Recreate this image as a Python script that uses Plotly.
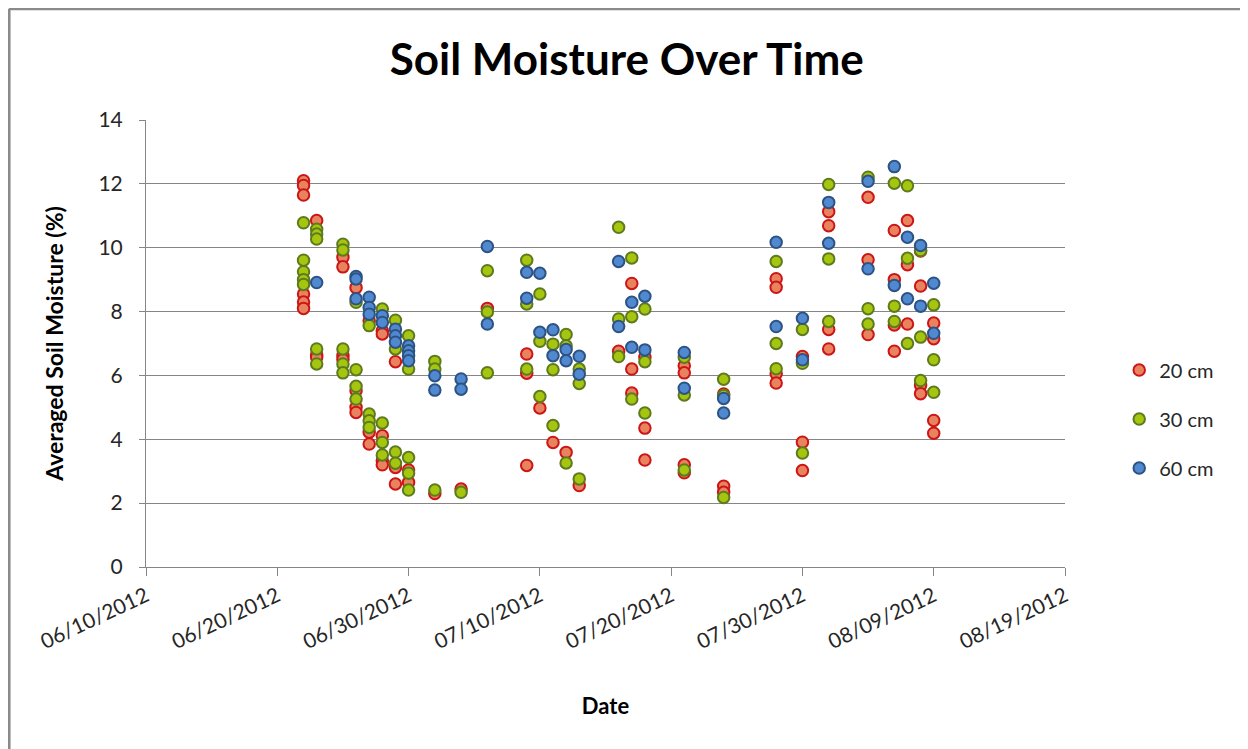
import plotly.graph_objects as go

# ─── Data ────────────────────────────────────────────────────────────────────

dates = [
    "2012-06-22", "2012-06-23", "2012-06-25", "2012-06-26", "2012-06-27",
    "2012-06-28", "2012-06-29", "2012-06-30", "2012-07-02", "2012-07-04",
    "2012-07-06", "2012-07-09", "2012-07-10", "2012-07-11", "2012-07-12",
    "2012-07-13", "2012-07-16", "2012-07-17", "2012-07-18", "2012-07-21",
    "2012-07-24", "2012-07-28", "2012-07-30", "2012-08-01", "2012-08-04",
    "2012-08-06", "2012-08-07", "2012-08-08", "2012-08-09",
]

# one list of readings per date, same order as `dates`
moist_20 = [
    [12.1, 11.95, 11.65, 8.55, 8.3, 8.1],
    [10.85, 6.65, 6.57],
    [9.7, 9.4, 6.62, 6.5],
    [8.75, 5.52, 5.0, 4.84],
    [7.71, 4.22, 3.85],
    [7.4, 7.3, 4.11, 3.33, 3.2],
    [6.43, 3.12, 2.6],
    [3.04, 2.65],
    [2.3],
    [2.44],
    [8.1],
    [6.67, 6.07, 3.18],
    [4.98],
    [3.9],
    [3.59],
    [2.55],
    [6.76],
    [8.88, 6.2, 5.45],
    [6.57, 4.35, 3.35],
    [6.3, 6.08, 3.2, 2.95],
    [5.42, 2.53, 2.34],
    [9.03, 8.76, 6.05, 5.76],
    [6.59, 3.91, 3.02],
    [11.13, 10.69, 7.44, 6.83],
    [11.58, 9.62, 7.28],
    [10.54, 9.0, 7.58, 6.76],
    [10.85, 9.47, 7.61],
    [9.9, 8.8, 5.69, 5.43],
    [7.64, 7.15, 4.59, 4.19],
]

moist_30 = [
    [10.78, 9.61, 9.25, 9.0, 8.85],
    [10.58, 10.43, 10.27, 6.83, 6.36],
    [10.11, 9.93, 6.83, 6.36, 6.08],
    [8.29, 6.18, 5.66, 5.26],
    [7.56, 4.79, 4.58, 4.37],
    [8.08, 4.51, 3.9, 3.51],
    [7.73, 6.83, 3.6, 3.25],
    [7.24, 6.2, 3.43, 2.94, 2.41],
    [6.44, 6.2, 2.41],
    [2.34],
    [9.28, 7.99, 6.08],
    [9.61, 8.24, 6.2],
    [8.55, 7.07, 5.34],
    [6.98, 6.18, 4.43],
    [7.28, 6.93, 3.26],
    [6.2, 5.75, 2.76],
    [10.64, 7.77, 6.59],
    [9.68, 7.84, 5.26],
    [8.08, 6.43, 4.82],
    [6.57, 5.39, 3.04],
    [5.88, 5.37, 2.18],
    [9.57, 7.0, 6.21],
    [7.44, 6.38, 3.57],
    [11.98, 9.65, 7.69],
    [12.21, 8.09, 7.61],
    [12.02, 8.17, 7.69],
    [11.94, 9.67, 7.0],
    [9.91, 7.2, 5.84],
    [8.21, 6.49, 5.47],
]

moist_60 = [
    [],
    [8.91],
    [],
    [9.1, 9.02, 8.4],
    [8.45, 8.13, 7.92],
    [7.87, 7.66],
    [7.45, 7.24, 7.04],
    [6.93, 6.77, 6.62, 6.46],
    [5.99, 5.54],
    [5.89, 5.57],
    [10.04, 7.61],
    [9.23, 8.42],
    [9.2, 7.35],
    [7.43, 6.62],
    [6.81, 6.46],
    [6.6, 6.04],
    [9.57, 7.53],
    [8.29, 6.88],
    [8.48, 6.8],
    [6.72, 5.6],
    [5.28, 4.82],
    [10.17, 7.53],
    [7.79, 6.49],
    [11.42, 10.14],
    [12.08, 9.34],
    [12.54, 8.82],
    [10.33, 8.4],
    [10.07, 8.17],
    [8.89, 7.32],
]

series_names = ["20 cm", "30 cm", "60 cm"]
fill_colors = ["#E8825F", "#A5C50E", "#5089D0"]
edge_colors = ["#CC1515", "#5E7A1E", "#2D5384"]

FONT = "Lato"


def flatten(per_date):
    """Expand per-date reading lists into matching x / y lists."""
    xs, ys = [], []
    for d, vals in zip(dates, per_date):
        for v in vals:
            xs.append(d)
            ys.append(v)
    return xs, ys


fig = go.Figure()
for i, readings in enumerate([moist_20, moist_30, moist_60]):
    xs, ys = flatten(readings)
    fig.add_trace(go.Scatter(
        x=xs, y=ys,
        mode="markers",
        name=series_names[i],
        legendgroup=series_names[i],
        marker=dict(size=11.5, color=fill_colors[i],
                    line=dict(color=edge_colors[i], width=2)),
    ))

# chart-area frame (left and top edges visible)
frame = dict(type="line", xref="paper", yref="paper",
             line=dict(color="#8A8A8A", width=3))
fig.add_shape(**frame, x0=-0.149, x1=-0.149, y0=1.249, y1=-0.42)
fig.add_shape(**frame, x0=-0.149, x1=1.21, y0=1.249, y1=1.249)

# page body adds 8px on each side, so the figure is 8px smaller
fig.update_layout(
    width=1240, height=741,
    margin=dict(l=138, r=183, t=112, b=182),
    paper_bgcolor="white", plot_bgcolor="white",
    font=dict(family=FONT, color="#262626"),
    title=dict(text="<b>Soil Moisture Over Time</b>", x=0.499, y=0.93,
               xanchor="center", yanchor="middle",
               font=dict(family=FONT, size=44, color="black")),
    legend=dict(x=1.059, y=0.331, xanchor="left", yanchor="middle",
                font=dict(family=FONT, size=20, color="#262626"),
                traceorder="grouped", tracegroupgap=20,
                bgcolor="rgba(0,0,0,0)"),
    showlegend=True,
)

fig.update_xaxes(
    type="date",
    range=["2012-06-10", "2012-08-19"],
    tick0="2012-06-10", dtick=10 * 86400000,
    tickformat="%m/%d/%Y", tickangle=-25,
    tickfont=dict(family=FONT, size=21, color="#262626"),
    ticks="outside", ticklen=8, tickcolor="#868686",
    showline=True, linecolor="#868686", linewidth=1,
    showgrid=False, zeroline=False,
    title=dict(text="<b>Date</b>", standoff=46,
               font=dict(family=FONT, size=22, color="black")),
)

fig.update_yaxes(
    range=[0, 14], dtick=2,
    tickfont=dict(family=FONT, size=21, color="#262626"),
    ticks="outside", ticklen=6, tickcolor="#868686",
    ticklabelstandoff=12,
    showline=True, linecolor="#868686", linewidth=1,
    showgrid=True, gridcolor="#868686", gridwidth=1,
    zeroline=False,
    title=dict(text="<b>Averaged Soil Moisture (%)</b>", standoff=28,
               font=dict(family=FONT, size=23, color="black")),
)

fig.write_html("out.html")
